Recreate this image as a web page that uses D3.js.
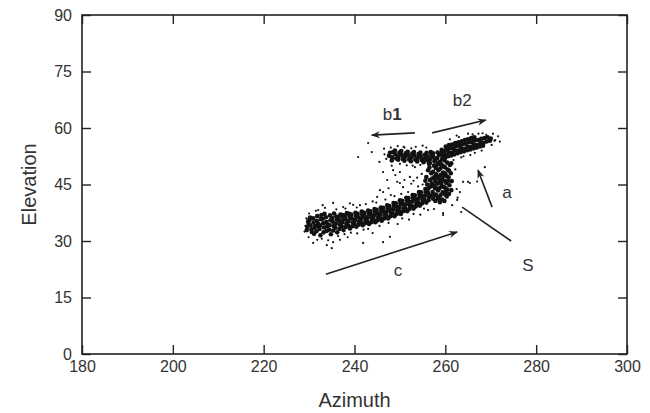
<!DOCTYPE html>
<html>
<head>
<meta charset="utf-8">
<script src="https://cdn.jsdelivr.net/npm/d3@7"></script>
<style>
  body { margin: 0; background: #fff; }
  svg { display: block; font-family: "Liberation Sans", Arial, Helvetica, sans-serif; }
</style>
</head>
<body>
<div class="chart"></div>
<script>
var azTicks = [180, 200, 220, 240, 260, 280, 300];
var elTicks = [0, 15, 30, 45, 60, 75, 90];

// dense part of the cloud: [azimuth, elevation]
var bandPoints = [
  [229.6,33.8],[229.8,35.2],[229.5,32.9],[229.9,34.6],
  [230.3,34.2],[230.1,35.6],[230.5,33.1],[230.2,36.2],[230.6,32.4],
  [231.0,34.9],[231.2,33.5],[230.9,36.0],[231.1,31.9],[231.3,34.0],
  [231.7,35.3],[231.9,33.9],[231.6,32.6],[231.8,36.6],[232.0,34.6],
  [232.4,34.1],[232.6,35.8],[232.3,33.2],[232.5,31.5],[232.7,36.9],
  [233.1,34.7],[233.3,33.6],[233.0,35.9],[233.2,32.3],[233.4,37.2],
  [233.8,35.0],[234.0,33.9],[233.7,36.3],[233.9,32.7],[234.1,34.4],
  [234.5,34.2],[234.7,35.5],[234.4,33.0],[234.6,36.8],[234.8,31.8],
  [235.2,35.1],[235.4,34.0],[235.1,36.1],[235.3,32.8],[235.5,37.3],
  [235.9,34.6],[236.1,35.7],[235.8,33.5],[236.0,36.5],[236.2,32.3],
  [236.6,35.4],[236.8,34.3],[236.5,36.3],[236.7,33.2],[236.9,37.0],
  [237.3,35.0],[237.5,36.0],[237.2,33.9],[237.4,36.9],[237.6,32.9],
  [238.0,35.7],[238.2,34.6],[237.9,36.6],[238.1,33.7],[238.3,37.4],
  [238.7,35.3],[238.9,36.4],[238.6,34.2],[238.8,37.2],[239.0,33.3],
  [239.4,36.0],[239.6,34.9],[239.3,37.0],[239.5,33.9],
  [240.1,35.6],[240.3,36.7],[240.0,34.6],[240.2,37.5],[240.4,33.8],
  [240.8,36.3],[241.0,35.2],[240.7,37.2],[240.9,34.3],
  [241.5,36.0],[241.7,37.0],[241.4,35.0],[241.6,37.8],[241.8,34.2],
  [242.2,36.6],[242.4,35.6],[242.1,37.5],[242.3,34.7],
  [242.9,36.3],[243.1,37.3],[242.8,35.3],[243.0,38.1],[243.2,34.5],
  [243.6,37.0],[243.8,36.0],[243.5,37.9],[243.7,35.0],
  [244.3,36.8],[244.5,37.7],[244.2,35.8],[244.4,38.5],[244.6,35.0],
  [245.0,37.4],[245.2,36.4],[244.9,38.3],[245.1,35.5],
  [245.7,37.2],[245.9,38.1],[245.6,36.2],[245.8,38.9],[246.0,35.4],
  [246.4,37.9],[246.6,36.9],[246.3,38.8],[246.5,36.0],
  [247.1,37.8],[247.3,38.7],[247.0,36.8],[247.2,39.5],[247.4,36.0],
  [247.8,38.5],[248.0,37.5],[247.7,39.3],[247.9,36.6],
  [248.5,38.4],[248.7,39.3],[248.4,37.4],[248.6,40.1],[248.8,36.6],
  [249.2,39.1],[249.4,38.1],[249.1,40.0],[249.3,37.2],
  [249.9,39.0],[250.1,40.0],[249.8,38.0],[250.0,40.8],[250.2,37.2],
  [250.6,39.8],[250.8,38.7],[250.5,40.7],[250.7,37.9],
  [251.3,39.7],[251.5,40.7],[251.2,38.7],[251.4,41.5],[251.6,37.9],
  [252.0,40.4],[252.2,39.4],[251.9,41.4],[252.1,38.5],
  [252.7,40.5],[252.9,41.4],[252.6,39.4],[252.8,42.2],[253.0,38.6],
  [253.4,41.1],[253.6,40.1],[253.3,42.1],[253.5,39.2],
  [254.1,41.2],[254.3,42.2],[254.0,40.2],[254.2,43.0],[254.4,39.4],
  [254.8,41.9],[255.0,40.9],[254.7,42.9],[254.9,40.0],
  [255.5,42.0],[255.7,43.0],[255.4,41.0],[255.6,43.8],[255.8,40.2],
  [256.2,42.7],[256.4,41.7],[256.1,43.7],[256.3,40.8],
  [256.8,44.5],[256.6,46.2],[256.9,48.0],[256.7,42.0],[256.5,49.5],
  [257.3,41.2],[257.2,43.0],[257.4,44.8],[257.1,46.6],[257.3,48.4],[257.5,50.0],
  [257.8,40.6],[257.9,42.3],[257.7,44.1],[257.8,45.9],[258.0,47.7],[257.9,49.4],[257.8,51.2],
  [258.3,41.5],[258.4,43.4],[258.2,45.2],[258.3,47.0],[258.5,48.8],[258.4,50.5],[258.2,52.0],
  [258.8,40.3],[258.9,42.1],[258.7,44.0],[258.8,45.8],[259.0,47.5],[258.9,49.3],[258.8,51.0],
  [259.3,41.0],[259.4,42.9],[259.2,44.6],[259.3,46.4],[259.5,48.2],[259.4,50.0],[259.3,51.8],
  [259.8,40.6],[259.9,42.4],[259.7,44.3],[259.8,46.0],[260.0,47.9],[259.9,49.6],[259.8,51.4],
  [260.3,41.8],[260.4,43.6],[260.2,45.4],[260.3,47.2],[260.5,49.0],[260.4,50.8],
  [260.8,42.5],[260.9,44.8],[260.7,46.9],[260.8,48.7],[261.0,50.2],
  [261.3,43.5],[261.4,45.9],[261.2,48.0],[261.3,50.6],
  [257.0,45.3],[257.6,47.0],[258.1,43.9],[258.6,46.5],[259.1,45.2],[259.6,47.3],
  [260.1,44.0],[260.6,45.9],[258.0,49.9],[259.0,50.4],[260.0,42.9],[258.5,41.2],[257.5,42.2],
  [256.0,45.0],[255.8,47.0],[256.2,48.8],[256.4,50.5],[255.9,51.5],[256.3,44.0],[255.6,46.0],
  [258.6,52.8],[259.1,53.4],[259.5,52.6],[259.2,54.2],[258.9,53.0],[259.7,53.8],[258.3,53.5],
  [247.6,52.6],[247.8,53.4],
  [248.3,52.2],[248.5,53.6],[248.2,51.4],
  [249.0,53.0],[249.2,51.9],[248.9,54.0],
  [249.7,52.5],[249.9,53.5],[249.6,51.6],
  [250.4,52.9],[250.6,51.8],[250.3,53.9],
  [251.1,52.3],[251.3,53.3],[251.0,51.3],
  [251.8,52.8],[252.0,51.7],[251.7,53.7],
  [252.5,52.2],[252.7,53.2],[252.4,51.2],
  [253.2,52.7],[253.4,51.6],[253.1,53.6],
  [253.9,52.0],[254.1,53.1],[253.8,51.1],
  [254.6,52.6],[254.8,51.5],[254.5,53.5],
  [255.3,51.9],[255.5,52.9],[255.2,50.9],
  [256.0,52.5],[256.2,51.4],[255.9,53.4],
  [256.7,51.8],[256.9,52.8],[256.6,50.7],[256.8,53.6],
  [257.4,52.3],[257.6,51.2],[257.3,53.3],
  [260.0,53.0],[260.2,54.3],[259.9,52.0],[260.1,55.1],
  [260.7,53.6],[260.9,54.7],[260.6,52.5],[260.8,55.5],
  [261.4,53.4],[261.6,54.6],[261.3,52.7],[261.5,55.6],
  [262.1,54.1],[262.3,55.2],[262.0,53.0],[262.2,56.0],
  [262.8,54.0],[263.0,55.3],[262.7,53.3],[262.9,56.2],
  [263.5,54.6],[263.7,55.7],[263.4,53.6],[263.6,56.5],
  [264.2,54.5],[264.4,55.8],[264.1,53.8],[264.3,56.8],
  [264.9,55.1],[265.1,56.2],[264.8,54.1],[265.0,57.0],
  [265.6,55.0],[265.8,56.3],[265.5,54.3],[265.7,57.3],
  [266.3,55.6],[266.5,56.7],[266.2,54.6],[266.4,57.5],
  [267.0,55.5],[267.2,56.8],[266.9,54.8],
  [267.7,56.0],[267.9,57.1],[267.6,55.1],
  [268.4,56.0],[268.6,57.3],[268.3,55.3],
  [269.1,56.4],[269.3,57.5],
  [269.8,56.6],[270.0,57.2]
];

// sparse points around the cloud
var strayPoints = [
  [243.0,56.0],[243.8,53.6],[240.8,52.3],[246.3,48.3],[247.2,46.2],[250.0,48.3],
  [249.4,45.7],[250.7,44.3],[252.2,47.0],[253.3,49.6],[245.6,43.5],[245.0,41.7],
  [235.3,40.1],[239.0,40.0],[262.6,40.9],[263.2,43.0],[265.0,45.7],[259.5,37.4],
  [256.2,38.2],[271.0,56.8],[263.9,45.7],[265.4,45.4],[267.0,45.8],[262.5,43.8],
  [262.7,41.5],[268.7,49.6],[259.5,36.9],[233.9,28.9],[235.3,29.7],[235.0,28.1],
  [236.8,30.3],[241.9,29.5],[246.3,29.7],[247.8,31.1],[244.0,32.1],[230.9,29.5],
  [232.0,38.2],[239.7,39.6],[246.3,43.0],[250.0,45.4],[251.5,50.1],[248.2,50.0],
  [245.5,51.0],[254.8,47.8],[255.0,45.0],[254.0,44.5],[251.8,43.0],[248.0,42.2],
  [244.0,40.5],[241.2,39.5],[237.5,39.0],[233.5,38.8],[229.9,31.0],[231.8,30.3],
  [238.5,31.0],[240.6,32.0],[243.0,33.2],[249.5,34.5],[252.0,35.7],[254.5,37.0],
  [257.5,38.5],[261.5,39.5],[263.5,37.7],[266.0,58.3],[268.2,58.6],[270.8,56.6],
  [271.6,57.8],[264.0,52.5],[266.5,53.4],[262.5,58.0],[261.8,51.5],[262.2,49.0],
  [252.5,54.6],[250.8,55.0],[246.5,54.5],[255.8,54.8],[253.0,46.0],[256.0,47.2],
  [229.2,34.0],[229.0,32.5],[229.4,36.0],[230.0,37.3],[231.5,38.0],[232.8,30.6],
  [234.2,30.2],[236.4,31.3],[237.8,31.8],[239.2,32.2],[233.0,39.5],[236.0,38.4],
  [238.0,38.6],[240.5,38.9],[242.5,39.8],[244.8,40.2],[246.8,41.0],[248.8,41.9],
  [242.0,33.0],[245.5,34.0],[247.5,34.8],[250.5,36.0],[253.0,37.2],[255.3,38.6],
  [248.0,54.8],[249.5,55.2],[251.0,54.8],[253.5,55.0],[255.0,55.3],[250.0,50.5],
  [252.8,50.0],[254.5,50.2],[247.0,51.8],[246.6,53.0],
  [261.0,57.0],[263.0,57.6],[265.0,58.5],[267.3,58.5],[269.0,58.2],[270.5,58.5],
  [272.0,56.4],[263.5,52.2],[265.5,52.8],[268.0,54.0],[270.2,55.5],
  [247.5,44.0],[249.0,47.5],[251.0,46.2],[252.5,45.2],[253.8,46.8],[248.5,48.8],[250.3,42.5]
];

// annotation arrows and labels, in data units
var arrows = [
  { from: [253.3, 58.7], to: [243.8, 58.1] },
  { from: [257.1, 58.7], to: [268.9, 62.1] },
  { from: [270.3, 39.0], to: [267.2, 48.8] },
  { from: [233.7, 21.2], to: [262.6, 32.4] }
];
var sLine = [[263.7, 39.0], [274.5, 30.0]];
var labels = [
  { text: "b", sub: "1", at: [248.3, 63.7] },
  { text: "b2", at: [263.7, 67.4] },
  { text: "a", at: [273.6, 43.0] },
  { text: "S", at: [278.2, 23.4] },
  { text: "c", at: [249.6, 22.3] }
];

var width = 650, height = 413;
var margin = { top: 15, right: 23, bottom: 59, left: 82 };

var svg = d3.select("div.chart")
  .append("svg")
  .attr("width", width)
  .attr("height", height);

var x = d3.scaleLinear().domain([180, 300]).range([margin.left, width - margin.right]);
var y = d3.scaleLinear().domain([0, 90]).range([height - margin.bottom, margin.top]);

var ink = "#222";

// frame
svg.append("rect")
  .attr("x", x(180)).attr("y", y(90))
  .attr("width", x(300) - x(180)).attr("height", y(0) - y(90))
  .attr("fill", "none").attr("stroke", ink).attr("stroke-width", 1.6);

function styleAxis(g) {
  g.select(".domain").remove();
  g.selectAll(".tick line").attr("stroke", ink).attr("stroke-width", 1.4);
  g.selectAll(".tick text").attr("fill", "#333").style("font-size", "16px")
    .style("font-family", '"Liberation Sans", Arial, sans-serif');
}

svg.append("g")
  .attr("transform", "translate(0," + y(0) + ")")
  .call(d3.axisBottom(x).tickValues(azTicks).tickSize(-9).tickPadding(7).tickFormat(d3.format("d")))
  .call(styleAxis);
svg.append("g")
  .attr("transform", "translate(" + x(180) + ",0)")
  .call(d3.axisLeft(y).tickValues(elTicks).tickSize(-9).tickPadding(10).tickFormat(d3.format("d")))
  .call(styleAxis);
svg.append("g")
  .attr("transform", "translate(0," + y(90) + ")")
  .call(d3.axisTop(x).tickValues(azTicks).tickSize(-9).tickFormat(""))
  .call(styleAxis);
svg.append("g")
  .attr("transform", "translate(" + x(300) + ",0)")
  .call(d3.axisRight(y).tickValues(elTicks).tickSize(-9).tickFormat(""))
  .call(styleAxis);

// axis titles
svg.append("text")
  .attr("x", (x(180) + x(300)) / 2).attr("y", 407)
  .attr("text-anchor", "middle").attr("fill", "#333")
  .style("font-size", "20px").text("Azimuth");
svg.append("text")
  .attr("transform", "translate(36," + (y(0) + y(90)) / 2 + ") rotate(-90)")
  .attr("text-anchor", "middle").attr("fill", "#333")
  .style("font-size", "20px").text("Elevation");

// points
svg.append("g").selectAll("circle")
  .data(bandPoints).enter().append("circle")
  .attr("cx", d => x(d[0])).attr("cy", d => y(d[1]))
  .attr("r", 2.3).attr("fill", "#111");
svg.append("g").selectAll("circle")
  .data(strayPoints).enter().append("circle")
  .attr("cx", d => x(d[0])).attr("cy", d => y(d[1]))
  .attr("r", 1.1).attr("fill", "#111");

// arrows
svg.append("defs").append("marker")
  .attr("id", "head")
  .attr("viewBox", "0 0 10 10")
  .attr("refX", 9).attr("refY", 5)
  .attr("markerUnits", "userSpaceOnUse")
  .attr("markerWidth", 13).attr("markerHeight", 9)
  .attr("orient", "auto")
  .append("path")
  .attr("d", "M0,1 L10,5 L0,9 L3,5 Z")
  .attr("fill", ink);

svg.append("g").selectAll("line")
  .data(arrows).enter().append("line")
  .attr("x1", d => x(d.from[0])).attr("y1", d => y(d.from[1]))
  .attr("x2", d => x(d.to[0])).attr("y2", d => y(d.to[1]))
  .attr("stroke", ink).attr("stroke-width", 1.6)
  .attr("marker-end", "url(#head)");

svg.append("line")
  .attr("x1", x(sLine[0][0])).attr("y1", y(sLine[0][1]))
  .attr("x2", x(sLine[1][0])).attr("y2", y(sLine[1][1]))
  .attr("stroke", ink).attr("stroke-width", 1.6);

var lab = svg.append("g").selectAll("text")
  .data(labels).enter().append("text")
  .attr("x", d => x(d.at[0])).attr("y", d => y(d.at[1]))
  .attr("text-anchor", "middle").attr("dominant-baseline", "central")
  .attr("fill", "#333").style("font-size", "17px")
  .text(d => d.text);
lab.filter(d => d.sub).append("tspan")
  .style("font-weight", "bold").text(d => d.sub);
</script>
</body>
</html>
